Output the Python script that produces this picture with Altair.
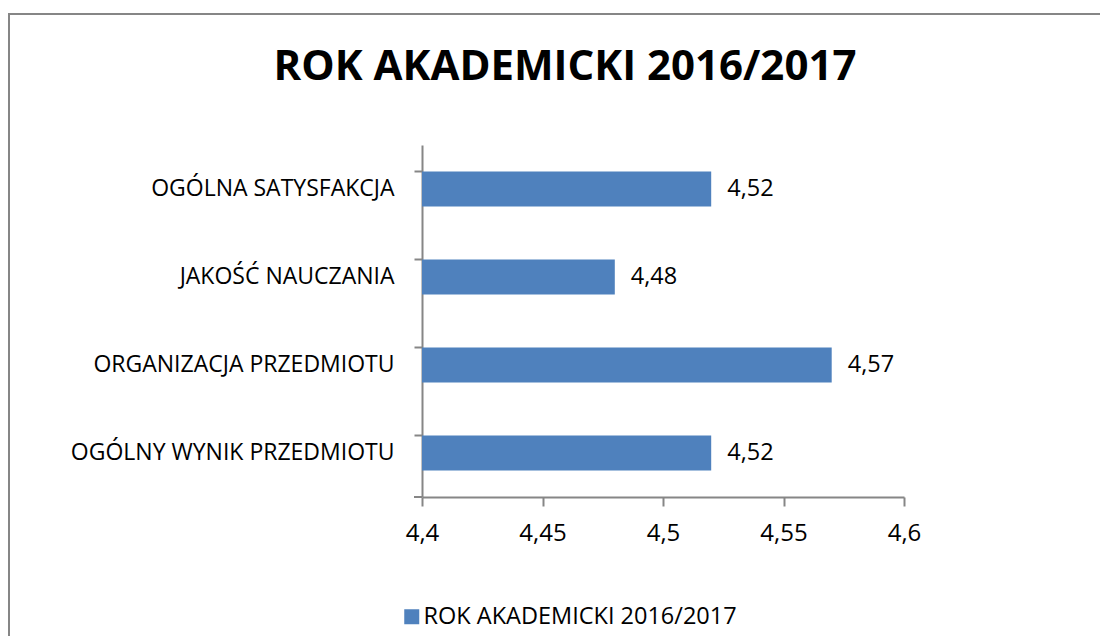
import altair as alt
import pandas as pd

categories = ["OGÓLNA SATYSFAKCJA", "JAKOŚĆ NAUCZANIA", "ORGANIZACJA PRZEDMIOTU", "OGÓLNY WYNIK PRZEDMIOTU"]
values = [4.52, 4.48, 4.57, 4.52]
series_name = "ROK AKADEMICKI 2016/2017"
chart_title = "ROK AKADEMICKI 2016/2017"
x_ticks = [4.4, 4.45, 4.5, 4.55, 4.6]
x_min = 4.4

df = pd.DataFrame({
    "cat": categories,
    "val": values,
    "series": [series_name] * len(categories),
    "label": [f"{v:.2f}".replace(".", ",") for v in values],
})
title_df = pd.DataFrame({"t": [chart_title]})

FONT = "Open Sans"
GRAY = "#868686"
BLUE = "#4F81BD"
W, H = 482, 352

x_enc = alt.X("val:Q", scale=alt.Scale(domain=[4.4, 4.6], zero=False, nice=False),
              axis=alt.Axis(values=x_ticks, title=None, grid=False, labelFlush=False,
                            labelExpr="replace(format(datum.value, '.2~f'), '.', ',')",
                            domainColor=GRAY, tickColor=GRAY, tickSize=9,
                            labelFontSize=24, labelFont=FONT, labelColor="#000000",
                            labelPadding=15, domainWidth=2, tickWidth=2))
y_enc = alt.Y("cat:N", sort=categories,
              scale=alt.Scale(paddingInner=0.6, paddingOuter=0.3),
              axis=alt.Axis(title=None, bandPosition=0, domainColor=GRAY, tickColor=GRAY,
                            tickSize=8, labelFontSize=23, labelFont=FONT, labelColor="#000000",
                            labelPadding=20, domainWidth=2, tickWidth=2, labelLimit=400))

bars = alt.Chart(df).mark_bar(color=BLUE).encode(
    x=x_enc, x2=alt.datum(x_min), y=y_enc,
    color=alt.Color("series:N", scale=alt.Scale(range=[BLUE]),
                    legend=alt.Legend(title=None, orient="none", legendX=-22, legendY=460,
                                      symbolType="square", symbolSize=225, symbolStrokeWidth=0,
                                      labelOffset=0,
                                      labelFontSize=23.5, labelFont=FONT, labelColor="#000000",
                                      labelLimit=500)),
)

labels = alt.Chart(df).mark_text(align="left", baseline="middle", dx=16, fontSize=23.5,
                                 font=FONT, color="#000000").encode(
    x="val:Q", y=alt.Y("cat:N", sort=categories), text="label:N")

title = alt.Chart(title_df).mark_text(align="center", baseline="alphabetic", fontSize=42,
                                      font=FONT, fontWeight="bold", color="#000000").encode(
    x=alt.value(143), y=alt.value(-65), text="t:N")

# outer chart border (decoration)
border = alt.Chart(title_df).mark_rect(fill="transparent", fillOpacity=0, stroke=GRAY, strokeWidth=2).encode(
    x=alt.value(-413), x2=alt.value(760), y=alt.value(-131), y2=alt.value(560))

bottom_tick = alt.Chart(title_df).mark_rule(color=GRAY, strokeWidth=2).encode(
    x=alt.value(-8), x2=alt.value(0), y=alt.value(H))

chart = alt.layer(bars, labels, bottom_tick, title, border).properties(
    width=W, height=H,
    background="#ffffff",
    autosize=alt.AutoSizeParams(type="none"),
    padding={"left": 414, "top": 137, "right": 196, "bottom": 139},
).configure_view(stroke="transparent", strokeWidth=0)

chart.save("out.html", embed_options={"renderer": "svg", "actions": False})
